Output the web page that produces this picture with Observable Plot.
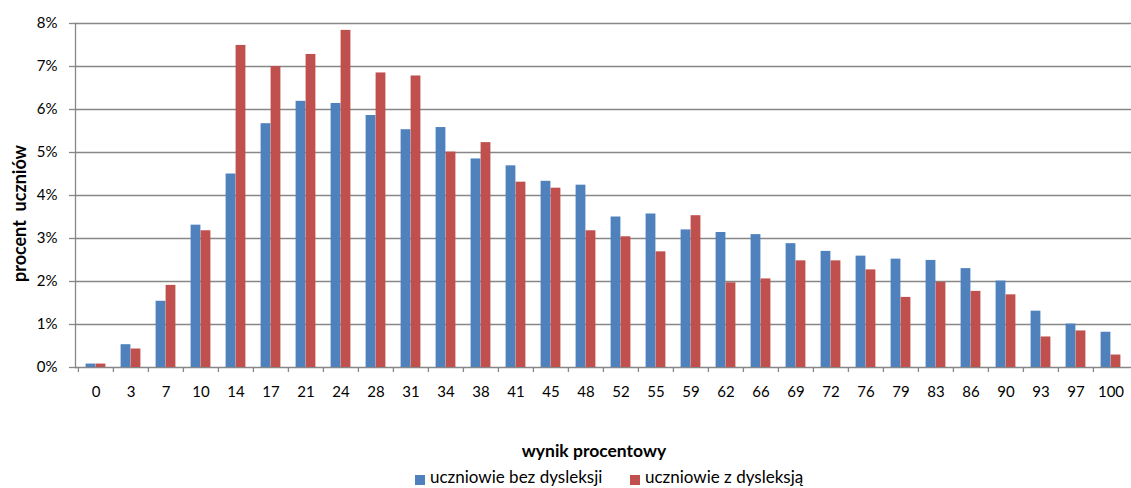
<!DOCTYPE html>
<html>
<head>
<meta charset="utf-8">
<script src="https://cdn.jsdelivr.net/npm/d3@7"></script>
<script src="https://cdn.jsdelivr.net/npm/@observablehq/plot@0.6"></script>
<style>
  html, body { margin: 0; padding: 0; background: #fff; }
  #wrap { position: relative; width: 1131px; height: 488px; font-family: Lato, "Liberation Sans", sans-serif; color: #000; overflow: hidden; }
  #xtitle { position: absolute; left: 0; width: 1131px; top: 439.5px; font-size: 17.5px; line-height: 1.2; font-weight: bold; text-align: center; padding-left: 57px; box-sizing: border-box; }
  .lgt { position: absolute; top: 467px; font-size: 17px; line-height: 20px; white-space: nowrap; }
  .sw { position: absolute; top: 475px; width: 10px; height: 10px; }
</style>
</head>
<body>
<div id="wrap">
  <div id="chart"></div>
  <div id="xtitle">wynik procentowy</div>
  <div class="sw" style="left:415px;background:#4F81BD"></div>
  <div class="lgt" style="left:430px">uczniowie bez dysleksji</div>
  <div class="sw" style="left:630px;background:#C0504D"></div>
  <div class="lgt" style="left:645px">uczniowie z dysleksją</div>
</div>
<script>
const categories = ["0","3","7","10","14","17","21","24","28","31","34","38","41","45","48","52","55","59","62","66","69","72","76","79","83","86","90","93","97","100"];
const bezDysleksji = [0.08,0.53,1.54,3.31,4.50,5.67,6.19,6.14,5.86,5.53,5.58,4.85,4.69,4.33,4.24,3.50,3.57,3.20,3.14,3.09,2.88,2.70,2.59,2.52,2.49,2.30,2.01,1.31,1.01,0.82];
const zDysleksja = [0.08,0.43,1.91,3.18,7.49,7.00,7.28,7.84,6.85,6.78,5.01,5.23,4.31,4.17,3.18,3.04,2.69,3.53,1.97,2.06,2.48,2.48,2.27,1.63,1.98,1.77,1.69,0.71,0.85,0.29];
const yTicks = [0,1,2,3,4,5,6,7,8];
const yTitle = "procent\u00a0 uczniów";

const gray = "#878787";
const step = (1131 - 75) / categories.length;

const chart = Plot.plot({
  width: 1131,
  height: 410,
  marginLeft: 75,
  marginRight: 0,
  marginTop: 23,
  marginBottom: 43,
  style: { fontFamily: "Lato, 'Liberation Sans', sans-serif", fontSize: "15px", color: "#000", background: "#fff", overflow: "visible" },
  x: { type: "band", domain: categories, padding: 0 },
  y: { domain: [0, 8] },
  marks: [
    Plot.gridY(yTicks, { stroke: gray, strokeOpacity: 1, strokeWidth: 1.3 }),
    Plot.barY(categories, { x: d => d, y: (d, i) => bezDysleksji[i], fill: "#4F81BD", insetLeft: 7.6, insetRight: 17.6 }),
    Plot.barY(categories, { x: d => d, y: (d, i) => zDysleksja[i], fill: "#C0504D", insetLeft: 17.6, insetRight: 7.6 }),
    Plot.frame({ anchor: "left", stroke: gray, strokeWidth: 1.3 }),
    Plot.axisY(yTicks, { tickSize: 6, tickPadding: 12, stroke: gray, strokeWidth: 1.3, tickFormat: d => d + "%", fontSize: 15, label: null }),
    Plot.axisX({ tickSize: 5, dx: -step / 2, stroke: gray, strokeWidth: 1.3, tickFormat: () => "", label: null }),
    Plot.axisX({ tickSize: 0, tickPadding: 19, fontSize: 15, label: null }),
    Plot.text([yTitle], { frameAnchor: "left", textAnchor: "middle", dx: -55, dy: 18, rotate: -90, fontWeight: "bold", fontSize: 18, fill: "#000" })
  ]
});
document.getElementById("chart").appendChild(chart);
</script>
</body>
</html>
